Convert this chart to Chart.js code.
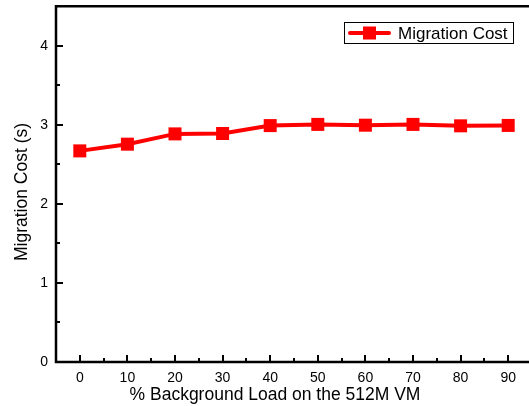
<!DOCTYPE html>
<html>
<head>
<meta charset="utf-8">
<script src="https://cdn.jsdelivr.net/npm/chart.js@4/dist/chart.umd.min.js"></script>
<style>
html,body{margin:0;padding:0;background:#fff;overflow:hidden;}
#wrap{position:relative;top:-3px;width:545px;height:409px;}
</style>
</head>
<body>
<div id="wrap"><canvas id="c"></canvas></div>
<script>
const loads = [0, 10, 20, 30, 40, 50, 60, 70, 80, 90];
const migrationCost = [2.67, 2.755, 2.885, 2.89, 2.99, 3.005, 2.995, 3.005, 2.987, 2.992];
const seriesLabel = 'Migration Cost';
const xTitle = '% Background Load on the 512M VM';
const yTitle = 'Migration Cost (s)';

const FONT = 'Liberation Sans, Arial, sans-serif';
const OFF = 3; // canvas is shifted up by 3px

const frame = {
  id: 'frame',
  afterDatasetsDraw(chart) {
    const ctx = chart.ctx;
    const a = chart.chartArea;
    const xs = chart.scales.x, ys = chart.scales.y;
    ctx.save();
    ctx.strokeStyle = '#000';
    ctx.lineWidth = 2;
    for (let v = -5; v <= 95; v += 5) {
      const px = Math.round(xs.getPixelForValue(v));
      const major = v % 10 === 0;
      const len = major ? 7 : 4;
      ctx.beginPath();
      ctx.moveTo(px, a.bottom);
      ctx.lineTo(px, a.bottom - len);
      ctx.stroke();
    }
    for (let v = 0; v <= 4.5; v += 0.5) {
      const py = Math.round(ys.getPixelForValue(v));
      const major = Math.abs(v - Math.round(v)) < 1e-6;
      const len = major ? 7 : 4;
      ctx.beginPath();
      ctx.moveTo(a.left, py);
      ctx.lineTo(a.left + len, py);
      ctx.stroke();
    }
    ctx.lineWidth = 2.5;
    ctx.beginPath();
    ctx.moveTo(a.left, a.top);
    ctx.lineTo(a.right, a.top);
    ctx.lineTo(a.right, a.bottom);
    ctx.lineTo(a.left, a.bottom);
    ctx.closePath();
    ctx.stroke();

    // axis titles
    ctx.fillStyle = '#000';
    ctx.font = '17.5px ' + FONT;
    ctx.textAlign = 'center';
    ctx.textBaseline = 'middle';
    ctx.fillText(xTitle, 275, 395 + OFF);
    ctx.save();
    ctx.translate(22, 192 + OFF);
    ctx.rotate(-Math.PI / 2);
    ctx.fillText(yTitle, 0, 0);
    ctx.restore();

    // legend
    const lx = 344, ly = 22 + OFF, lw = 169, lh = 21;
    ctx.fillStyle = '#fff';
    ctx.fillRect(lx, ly, lw, lh);
    ctx.lineWidth = 1;
    ctx.strokeStyle = '#000';
    ctx.strokeRect(lx + 0.5, ly + 0.5, lw, lh);
    const cy = ly + lh / 2 + 0.5;
    ctx.strokeStyle = '#ff0000';
    ctx.lineWidth = 4;
    ctx.lineCap = 'round';
    ctx.beginPath();
    ctx.moveTo(350, cy);
    ctx.lineTo(389, cy);
    ctx.stroke();
    ctx.fillStyle = '#ff0000';
    ctx.fillRect(363, cy - 6.5, 13, 13);
    ctx.fillStyle = '#000';
    ctx.font = '17px ' + FONT;
    ctx.textBaseline = 'middle';
    ctx.textAlign = 'left';
    ctx.fillText(chart.data.datasets[0].label, 398, cy + 1);
    ctx.restore();
  }
};

new Chart(document.getElementById('c'), {
  type: 'line',
  data: {
    datasets: [{
      label: seriesLabel,
      data: loads.map((x, i) => ({x: x, y: migrationCost[i]})),
      borderColor: '#ff0000',
      backgroundColor: '#ff0000',
      borderWidth: 4,
      pointStyle: 'rect',
      pointRadius: 9.2,
      pointBorderWidth: 0,
      pointBackgroundColor: '#ff0000',
      tension: 0,
      clip: false
    }]
  },
  options: {
    responsive: true,
    maintainAspectRatio: false,
    animation: false,
    layout: {padding: {top: 4, right: 13, left: 0, bottom: 0}},
    plugins: {legend: {display: false}, tooltip: {enabled: false}},
    scales: {
      x: {
        type: 'linear',
        min: -5, max: 95,
        grid: {display: false, drawTicks: false},
        border: {display: false},
        afterFit(s) { s.height = 44; s.paddingLeft = 0; s.paddingRight = 0; },
        ticks: {
          padding: 8,
          color: '#000',
          font: {family: FONT, size: 14},
          callback: (v) => (v >= 0 && v <= 90 && v % 10 === 0) ? String(v) : ''
        },
        afterBuildTicks(s) {
          s.ticks = loads.map(v => ({value: v}));
        }
      },
      y: {
        min: 0, max: 4.5,
        grid: {display: false, drawTicks: false},
        border: {display: false},
        afterFit(s) { s.width = 56; s.paddingTop = 0; s.paddingBottom = 0; },
        afterBuildTicks(s) {
          s.ticks = [0, 1, 2, 3, 4].map(v => ({value: v}));
        },
        ticks: {
          padding: 8,
          color: '#000',
          font: {family: FONT, size: 14},
          callback: (v) => String(v)
        }
      }
    }
  },
  plugins: [frame]
});
</script>
</body>
</html>
